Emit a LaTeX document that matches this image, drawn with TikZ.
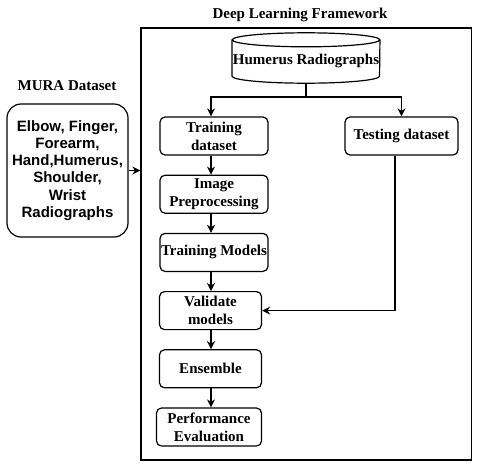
\documentclass[tikz,border=0pt]{standalone}
\usepackage{fontspec}
\setmainfont{Liberation Serif}
\newfontfamily\arialfont{Liberation Sans}
\usetikzlibrary{arrows.meta,positioning}
\tikzset{bx/.style={draw,rounded corners=5pt,line width=1.2pt,align=center,minimum height=38pt,inner sep=1pt,font=\fontsize{15}{18}\selectfont\bfseries},
 ttl/.style={font=\fontsize{15}{18}\selectfont\bfseries,inner sep=0pt},
 wire/.style={line width=1.2pt},arr/.style={-{Stealth[length=8pt,width=8pt,inset=2.5pt]},line width=1.2pt}}

\begin{document}
\begin{tikzpicture}[x=1pt,y=-1pt,node distance=19pt]
\useasboundingbox (0,0) rectangle (480,469);
\node[draw,line width=1.2pt,minimum width=330.5pt,minimum height=432pt,inner sep=0pt] (frame) at (306.25,244) {};
\node[ttl] (fwt) at (300,15) {Deep Learning Framework};
\node[ttl] (murat) at (67,86) {MURA Dataset};
\node[draw,rounded corners=14pt,line width=1.2pt,minimum width=121pt,minimum height=133pt,align=center,inner sep=1pt,font=\arialfont\fontsize{15}{17.3}\selectfont\bfseries] (mura) at (67.5,170.5)
 {Elbow, Finger,\\Forearm,\\Hand,Humerus,\\Shoulder,\\Wrist\\Radiographs};
% database
\node[ttl,minimum width=147.5pt,minimum height=50pt] (hr) at (306,58) {};
\node[ttl] (hrt) at (306,61) {Humerus Radiographs};
\draw[wire] ([yshift=-7pt]hr.north) ellipse [x radius=73.75pt,y radius=7pt];
\draw[wire] ([yshift=-7pt]hr.north west) -- ([yshift=7pt]hr.south west) arc[start angle=180,end angle=360,x radius=73.75pt,y radius=7pt] -- ([yshift=-7pt]hr.north east);
% training branch
\node[bx,minimum width=108pt] (tr) at (214,136) {Training\\dataset};
\node[bx,minimum width=108pt,below=of tr] (ip) {Image\\Preprocessing};
\node[bx,minimum width=108pt,below=of ip] (tm) {Training Models};
\node[bx,minimum width=102pt,below=of tm,xshift=-3.5pt] (vm) {Validate\\models};
\node[bx,minimum width=102pt,below=of vm] (en) {Ensemble};
\node[bx,minimum width=105pt,below=of en,xshift=-1.5pt] (pe) {Performance\\Evaluation};
% testing branch
\node[bx,minimum width=113pt] (ts) at (401.5,136) {Testing dataset};
\coordinate (ax) at (211,0);
\coordinate (tx) at (395,0);
\coordinate (jn) at (306,97);
\draw[wire] (hr.south) -- (jn);
\draw[arr] (jn) -| (tr.north -| ax);
\draw[arr] (jn) -| (ts.north);
\foreach \a/\b in {tr/ip,ip/tm,tm/vm,vm/en,en/pe}{\draw[arr] (\a.south -| ax)--(\b.north -| ax);}
\draw[arr] (ts.south -| tx) |- (vm.east);
\draw[arr] (mura.east) -- (mura.east -| frame.west);
\end{tikzpicture}
\end{document}
